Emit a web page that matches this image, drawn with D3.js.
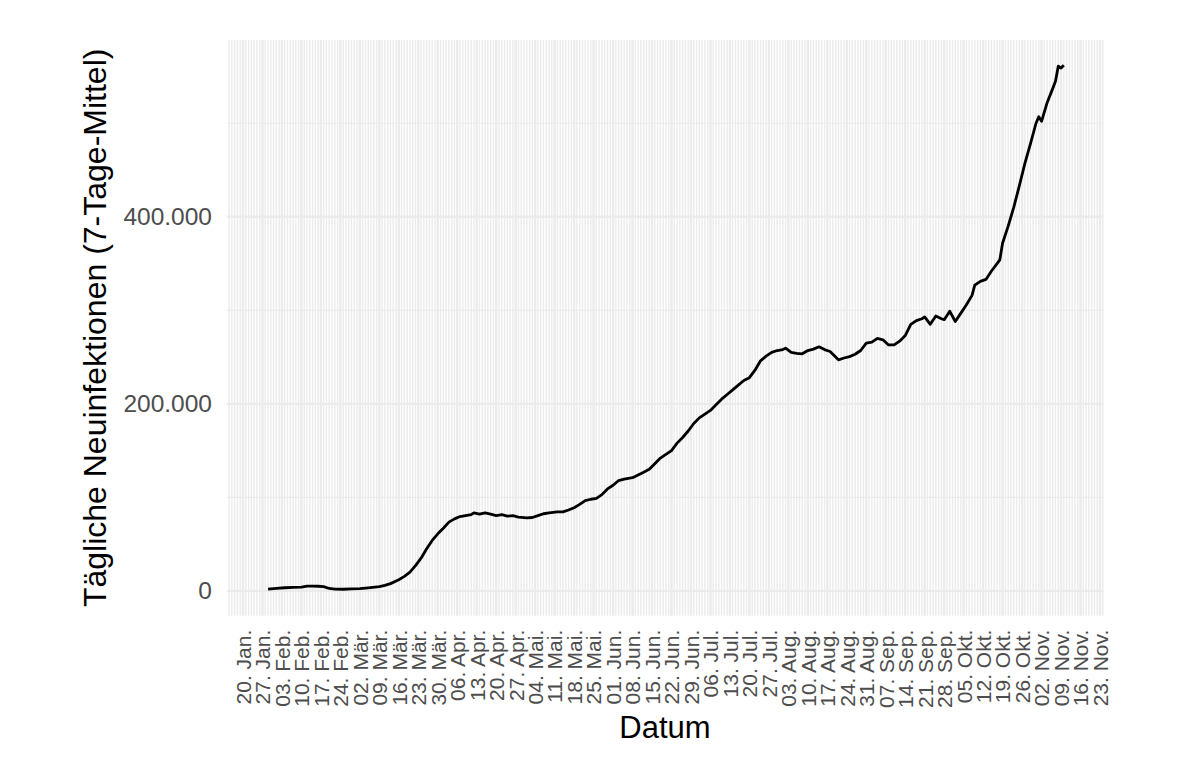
<!DOCTYPE html>
<html>
<head>
<meta charset="utf-8">
<script src="https://cdn.jsdelivr.net/npm/d3@7"></script>
<style>
  body { margin: 0; background: #fff; }
  text { font-family: "Liberation Sans", Arial, Helvetica, sans-serif; }
</style>
</head>
<body>
<script>
// 7-Tage-Mittel der täglichen Neuinfektionen (weltweit)
var dates = [
  "2020-01-29","2020-02-01","2020-02-04","2020-02-07","2020-02-10","2020-02-12","2020-02-14","2020-02-16","2020-02-18","2020-02-20",
  "2020-02-22","2020-02-25","2020-02-28","2020-03-02","2020-03-05","2020-03-09","2020-03-11","2020-03-13","2020-03-16","2020-03-18",
  "2020-03-20","2020-03-22","2020-03-24","2020-03-26","2020-03-28","2020-03-30","2020-04-01","2020-04-03","2020-04-05","2020-04-07",
  "2020-04-09","2020-04-11","2020-04-12","2020-04-14","2020-04-16","2020-04-18","2020-04-20","2020-04-22","2020-04-24","2020-04-26",
  "2020-04-28","2020-05-01","2020-05-03","2020-05-05","2020-05-07","2020-05-09","2020-05-12","2020-05-14","2020-05-16","2020-05-18",
  "2020-05-20","2020-05-22","2020-05-24","2020-05-26","2020-05-28","2020-05-30","2020-06-01","2020-06-03","2020-06-05","2020-06-08",
  "2020-06-10","2020-06-12","2020-06-14","2020-06-16","2020-06-18","2020-06-20","2020-06-22","2020-06-24","2020-06-26","2020-06-28",
  "2020-06-30","2020-07-02","2020-07-04","2020-07-06","2020-07-08","2020-07-10","2020-07-12","2020-07-14","2020-07-16","2020-07-18",
  "2020-07-20","2020-07-22","2020-07-24","2020-07-26","2020-07-28","2020-07-30","2020-08-01","2020-08-02","2020-08-04","2020-08-06",
  "2020-08-08","2020-08-10","2020-08-12","2020-08-14","2020-08-16","2020-08-18","2020-08-20","2020-08-21","2020-08-23","2020-08-25",
  "2020-08-27","2020-08-29","2020-08-31","2020-09-02","2020-09-04","2020-09-06","2020-09-08","2020-09-10","2020-09-12","2020-09-14",
  "2020-09-16","2020-09-18","2020-09-20","2020-09-21","2020-09-23","2020-09-25","2020-09-27","2020-09-28","2020-09-30","2020-10-02",
  "2020-10-04","2020-10-06","2020-10-08","2020-10-09","2020-10-11","2020-10-13","2020-10-15","2020-10-17","2020-10-18","2020-10-19",
  "2020-10-21","2020-10-23","2020-10-25","2020-10-27","2020-10-29","2020-10-31","2020-11-01","2020-11-02","2020-11-04","2020-11-06",
  "2020-11-07","2020-11-08","2020-11-09","2020-11-10"
];
var cases = [
  1800, 2700, 3400, 3800, 4000, 5200, 5200, 5000, 4600, 2600,
  1900, 1800, 2100, 2500, 3300, 4600, 6000, 7800, 12000, 15500,
  20000, 27000, 35000, 45000, 54000, 61000, 67000, 73500, 77000, 79500,
  80500, 81500, 83500, 82000, 83500, 82000, 80500, 81500, 80000, 80500,
  79000, 78000, 78500, 80500, 82500, 83500, 84500, 84500, 86500, 89000,
  92500, 96500, 98000, 99000, 103000, 109000, 113000, 118000, 119500, 121000,
  124000, 127000, 130000, 136000, 142000, 146000, 150000, 158000, 164000, 171000,
  179000, 185000, 189000, 193000, 199000, 205000, 210000, 215000, 220000, 225000,
  228000, 236000, 246000, 251000, 255000, 257000, 258000, 259500, 255000, 254000,
  253500, 257000, 258500, 261000, 258000, 256000, 250000, 247000, 249000, 250500,
  253000, 257000, 265000, 266000, 270000, 268500, 263000, 263000, 267000, 273000,
  285000, 289000, 291000, 293000, 285000, 294000, 291000, 290000, 299000, 288000,
  297000, 306000, 316000, 327000, 331000, 333000, 342000, 350000, 354000, 372000,
  390000, 410000, 433000, 457000, 478000, 500000, 507000, 502000, 522000, 537000,
  545000, 561000, 559000, 562000
];
var monthNames = ["Jan", "Feb", "Mär", "Apr", "Mai", "Jun", "Jul", "Aug", "Sep", "Okt", "Nov", "Dez"];
var yMajor = [0, 200000, 400000];
var yMinor = [100000, 300000, 500000];
var xFirstTick = "2020-01-20", xLastTick = "2020-11-23";
var xTitle = "Datum";
var yTitle = "Tägliche Neuinfektionen (7-Tage-Mittel)";

var width = 1200, height = 780;
var panel = { left: 227, right: 1103, top: 40, bottom: 615.7 };

var parse = d3.utcParse("%Y-%m-%d");
var data = dates.map(function(d, i) { return { date: parse(d), value: cases[i] }; });

var firstTick = parse(xFirstTick), lastTick = parse(xLastTick);
var dayMs = 864e5;

var x = d3.scaleUtc()
    .domain([new Date(+firstTick - 5.75 * dayMs), new Date(+lastTick + 1.08 * dayMs)])
    .range([panel.left, panel.right]);

var y = d3.scaleLinear()
    .domain([-26500, 589000])
    .range([panel.bottom, panel.top]);

var de = d3.formatLocale({ decimal: ",", thousands: ".", grouping: [3], currency: ["", " €"] });
var fmtY = de.format(",.0f");
var fmtDay = d3.utcFormat("%d");
function fmtX(d) { return fmtDay(d) + ". " + monthNames[d.getUTCMonth()] + "."; }

var svg = d3.select("body").append("svg")
    .attr("width", width)
    .attr("height", height);

// minor grid: daily + half steps on y
var minorDays = d3.utcDay.range(x.domain()[0], x.domain()[1]);
svg.append("g")
    .selectAll("line")
    .data(minorDays)
    .enter().append("line")
    .attr("x1", function(d) { return x(d); })
    .attr("x2", function(d) { return x(d); })
    .attr("y1", panel.top)
    .attr("y2", panel.bottom)
    .attr("stroke", "#ebebeb")
    .attr("stroke-width", 1.4);

svg.append("g")
    .selectAll("line")
    .data(yMinor)
    .enter().append("line")
    .attr("x1", panel.left)
    .attr("x2", panel.right)
    .attr("y1", function(d) { return y(d); })
    .attr("y2", function(d) { return y(d); })
    .attr("stroke", "#ebebeb")
    .attr("stroke-width", 1.2);

// major grid
var weeks = d3.utcMonday.range(firstTick, new Date(+lastTick + dayMs));
svg.append("g")
    .selectAll("line")
    .data(weeks)
    .enter().append("line")
    .attr("x1", function(d) { return x(d); })
    .attr("x2", function(d) { return x(d); })
    .attr("y1", panel.top)
    .attr("y2", panel.bottom)
    .attr("stroke", "#ebebeb")
    .attr("stroke-width", 2.4);

svg.append("g")
    .selectAll("line")
    .data(yMajor)
    .enter().append("line")
    .attr("x1", panel.left)
    .attr("x2", panel.right)
    .attr("y1", function(d) { return y(d); })
    .attr("y2", function(d) { return y(d); })
    .attr("stroke", "#ebebeb")
    .attr("stroke-width", 2.4);

// line
var line = d3.line()
    .x(function(d) { return x(d.date); })
    .y(function(d) { return y(d.value); });

svg.append("path")
    .datum(data)
    .attr("d", line)
    .attr("fill", "none")
    .attr("stroke", "#000")
    .attr("stroke-width", 2.8)
    .attr("stroke-linejoin", "round");

// axes (labels only, like theme_minimal)
var yAxis = d3.axisLeft(y).tickValues(yMajor).tickFormat(fmtY).tickSize(0).tickPadding(15);
var gy = svg.append("g")
    .attr("transform", "translate(" + panel.left + ",0)")
    .call(yAxis);
gy.select(".domain").remove();
gy.selectAll("text")
    .attr("fill", "#4d4d4d")
    .style("font-size", "24.5px");

var xAxis = d3.axisBottom(x).tickValues(weeks).tickFormat(fmtX).tickSize(0);
var gx = svg.append("g")
    .attr("transform", "translate(0," + panel.bottom + ")")
    .call(xAxis);
gx.select(".domain").remove();
gx.selectAll("text")
    .attr("fill", "#4d4d4d")
    .style("font-size", "21px")
    .attr("text-anchor", "end")
    .attr("transform", "rotate(-90)")
    .attr("x", -14)
    .attr("y", 0)
    .attr("dy", "0.35em");

svg.append("text")
    .attr("x", (panel.left + panel.right) / 2)
    .attr("y", 738)
    .attr("text-anchor", "middle")
    .style("font-size", "31px")
    .attr("fill", "#000")
    .text(xTitle);

svg.append("text")
    .attr("transform", "translate(95," + ((panel.top + panel.bottom) / 2) + ") rotate(-90)")
    .attr("text-anchor", "middle")
    .attr("dy", "0.35em")
    .style("font-size", "32px")
    .attr("fill", "#000")
    .text(yTitle);
</script>
</body>
</html>
